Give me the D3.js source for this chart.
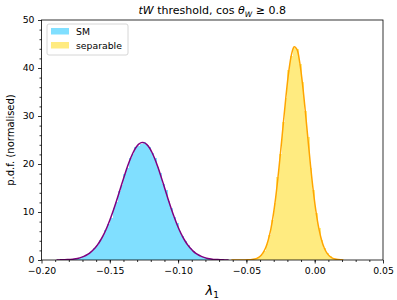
<!DOCTYPE html>
<html>
<head>
<meta charset="utf-8">
<script src="https://cdn.jsdelivr.net/npm/d3@7/dist/d3.min.js"></script>
<style>
  body { margin: 0; background: #fff; }
  svg { font-family: "DejaVu Sans", sans-serif; }
</style>
</head>
<body>
<svg id="chart" width="397" height="300"></svg>
<script>
// histogram bins (width 0.002)
const binWidth = 0.002;
const smStart = -0.190;
const smHist = [0.01, 0.03, 0.04, 0.05, 0.09, 0.12, 0.19, 0.25, 0.40, 0.52, 0.78, 1.00, 1.45, 1.80, 2.50, 3.10, 4.10, 4.90, 6.30, 7.40, 8.80, 10.9, 12.1, 14.4, 15.7, 18.0, 19.2, 21.2, 22.1, 23.5, 23.8, 24.2, 24.6, 23.9, 23.5, 22.2, 21.3, 19.3, 18.1, 15.8, 14.5, 12.2, 10.9, 8.90, 7.70, 6.10, 5.10, 3.90, 3.20, 2.40, 1.90, 1.35, 1.05, 0.72, 0.55, 0.36, 0.28, 0.17, 0.12, 0.07, 0.05, 0.03, 0.02, 0.01];
const sepStart = -0.062;
const sepHist = [0.0, 0.0, 0.0, 0.0, 0.01, 0.01, 0.03, 0.06, 0.14, 0.29, 0.55, 1.10, 1.85, 3.30, 5.20, 8.30, 11.8, 17.2, 22.0, 28.8, 33.8, 39.6, 42.4, 44.2, 44.0, 40.9, 37.1, 31.0, 25.6, 19.2, 14.5, 9.8, 6.7, 4.1, 2.55, 1.40, 0.80, 0.38, 0.21, 0.09, 0.04, 0.02];

// fitted curves, sampled at the bin centres
const smFit = [0.014, 0.022, 0.035, 0.054, 0.083, 0.124, 0.18, 0.27, 0.38, 0.54, 0.75, 1.04, 1.40, 1.86, 2.45, 3.15, 4.01, 5.03, 6.21, 7.56, 9.05, 10.68, 12.41, 14.22, 16.05, 17.83, 19.51, 21.04, 22.35, 23.38, 24.09, 24.45, 24.45, 24.09, 23.38, 22.35, 21.04, 19.51, 17.83, 16.05, 14.22, 12.41, 10.68, 9.05, 7.56, 6.21, 5.03, 4.01, 3.15, 2.45, 1.86, 1.40, 1.04, 0.75, 0.54, 0.38, 0.27, 0.18, 0.12, 0.08, 0.05, 0.035, 0.02, 0.014];
const sepFit = [0.0, 0.0002, 0.0006, 0.0016, 0.0043, 0.011, 0.027, 0.062, 0.136, 0.28, 0.56, 1.06, 1.90, 3.25, 5.28, 8.17, 12.04, 16.88, 22.42, 28.37, 34.21, 39.23, 42.80, 44.43, 43.88, 41.24, 36.86, 31.36, 25.36, 19.54, 14.31, 9.98, 6.62, 4.17, 2.50, 1.43, 0.77, 0.40, 0.20, 0.092, 0.041, 0.017];

const xTicks = [-0.20, -0.15, -0.10, -0.05, 0.00, 0.05];
const yTicks = [0, 10, 20, 30, 40, 50];
const legendLabels = ["SM", "separable"];

const svg = d3.select("#chart");
const margin = { left: 41.5, right: 14, top: 20, bottom: 40 };
const W = 397, H = 300;

const x = d3.scaleLinear().domain([-0.20, 0.05]).range([margin.left, W - margin.right]);
const y = d3.scaleLinear().domain([0, 50]).range([H - margin.bottom, margin.top]);

// deepskyblue / gold at half opacity on white, made opaque so bins don't seam
const colors = {
  smFill: "#80dfff",
  sepFill: "#ffeb80",
  smLine: "#800080",
  sepLine: "#ffa500"
};

const plot = svg.append("g");
plot.append("clipPath").attr("id", "clip").append("rect")
  .attr("x", margin.left).attr("y", margin.top)
  .attr("width", W - margin.left - margin.right).attr("height", H - margin.top - margin.bottom);

function toBins(vals, start) {
  return vals.map((v, i) => ({ x0: start + i * binWidth, x1: start + (i + 1) * binWidth, v: v }));
}

function drawHist(vals, start, fill) {
  plot.append("g").attr("clip-path", "url(#clip)")
    .attr("shape-rendering", "crispEdges")
    .selectAll("rect")
    .data(toBins(vals, start))
    .enter().append("rect")
    .attr("x", d => x(d.x0))
    .attr("width", d => x(d.x1) - x(d.x0) + 0.5)
    .attr("y", d => y(d.v))
    .attr("height", d => y(0) - y(d.v))
    .attr("fill", fill);
}

function drawFit(vals, start, stroke) {
  const pts = vals.map((v, i) => [start + (i + 0.5) * binWidth, v]);
  const line = d3.line().x(d => x(d[0])).y(d => y(d[1])).curve(d3.curveCatmullRom);
  plot.append("path")
    .attr("clip-path", "url(#clip)")
    .attr("d", line(pts))
    .attr("fill", "none")
    .attr("stroke", stroke)
    .attr("stroke-width", 1.5);
}

drawHist(smHist, smStart, colors.smFill);
drawHist(sepHist, sepStart, colors.sepFill);
drawFit(smFit, smStart, colors.smLine);
drawFit(sepFit, sepStart, colors.sepLine);

// frame
svg.append("rect")
  .attr("x", margin.left).attr("y", margin.top)
  .attr("width", W - margin.left - margin.right).attr("height", H - margin.top - margin.bottom)
  .attr("fill", "none").attr("stroke", "#000").attr("stroke-width", 0.8);

// axes
const fmtX = d => (d < 0 ? "\u2212" : "") + Math.abs(d).toFixed(2);
const xAxis = d3.axisBottom(x).tickValues(xTicks).tickFormat(fmtX).tickSize(3.5).tickPadding(3.5);
const xMinor = d3.axisBottom(x).tickValues(d3.range(-19, 5).map(d => d / 100)).tickFormat("").tickSize(2);
const yAxis = d3.axisLeft(y).tickValues(yTicks).tickSize(3.5).tickPadding(3.5);
const yMinor = d3.axisLeft(y).tickValues(d3.range(1, 50).filter(d => d % 2 === 0 && d % 10 !== 0)).tickFormat("").tickSize(2);

function styleAxis(g) {
  g.select(".domain").remove();
  g.selectAll("line").attr("stroke", "#000").attr("stroke-width", 0.8);
  g.selectAll("text").attr("fill", "#000").style("font-size", "9.3px").style("font-family", "DejaVu Sans");
}

svg.append("g").attr("transform", `translate(0,${H - margin.bottom})`).call(xAxis).call(styleAxis);
svg.append("g").attr("transform", `translate(0,${H - margin.bottom})`).call(xMinor).call(styleAxis);
svg.append("g").attr("transform", `translate(${margin.left},0)`).call(yAxis).call(styleAxis);
svg.append("g").attr("transform", `translate(${margin.left},0)`).call(yMinor).call(styleAxis);

// axis labels
svg.append("text")
  .attr("x", (margin.left + W - margin.right) / 2).attr("y", 295)
  .attr("text-anchor", "middle").style("font-size", "13px").style("font-style", "italic")
  .html('λ<tspan dy="3" style="font-size:9px;font-style:normal">1</tspan>');

svg.append("text")
  .attr("transform", `translate(14,${(margin.top + H - margin.bottom) / 2}) rotate(-90)`)
  .attr("text-anchor", "middle").style("font-size", "10px")
  .text("p.d.f. (normalised)");

// title
svg.append("text")
  .attr("x", (margin.left + W - margin.right) / 2).attr("y", 14)
  .attr("text-anchor", "middle").style("font-size", "11px")
  .html('<tspan font-style="italic">tW</tspan> threshold, cos <tspan font-style="italic">θ</tspan><tspan dy="2.5" font-size="7.5px" font-style="italic">W</tspan><tspan dy="-2.5"> ≥ 0.8</tspan>');

// legend
const lg = svg.append("g").attr("transform", "translate(47,24)");
lg.append("rect").attr("width", 81).attr("height", 31).attr("rx", 2)
  .attr("fill", "#fff").attr("fill-opacity", 0.8).attr("stroke", "#ccc").attr("stroke-width", 0.8);
const legendFills = [colors.smFill, colors.sepFill];
legendLabels.forEach((lab, i) => {
  lg.append("rect").attr("x", 4).attr("y", 4 + i * 14).attr("width", 18).attr("height", 6.5).attr("fill", legendFills[i]);
  lg.append("text").attr("x", 29).attr("y", 11 + i * 14)
    .style("font-size", "9.3px").text(lab);
});
</script>
</body>
</html>
